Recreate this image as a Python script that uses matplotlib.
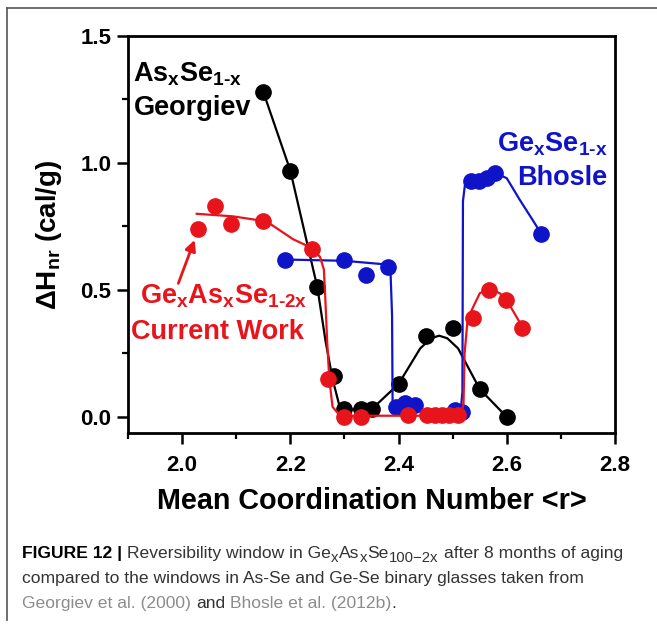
import matplotlib
matplotlib.use('Agg')
import matplotlib.pyplot as plt
from matplotlib.lines import Line2D
from matplotlib.ticker import FormatStrFormatter

plt.rcParams['font.family'] = ['Liberation Sans', 'DejaVu Sans']
plt.rcParams['mathtext.default'] = 'regular'

RED = '#e8141c'
BLUE = '#0f14c8'
BLACK = '#000000'

# As-Se glasses, Georgiev et al.
georgiev_r = [2.15, 2.20, 2.25, 2.28, 2.30, 2.33, 2.35, 2.40, 2.45, 2.50, 2.55, 2.60]
georgiev_h = [1.28, 0.97, 0.51, 0.16, 0.03, 0.03, 0.03, 0.13, 0.32, 0.35, 0.11, 0.00]
georgiev_fit_r = [2.15, 2.20, 2.25, 2.265, 2.278, 2.29, 2.30, 2.35, 2.40, 2.42, 2.44,
                  2.46, 2.475, 2.49, 2.51, 2.53, 2.55, 2.60]
georgiev_fit_h = [1.28, 0.97, 0.51, 0.30, 0.15, 0.05, 0.03, 0.03, 0.13, 0.20, 0.27,
                  0.31, 0.32, 0.31, 0.27, 0.19, 0.11, 0.00]

# Ge-Se glasses, Bhosle et al.
bhosle_r = [2.19, 2.30, 2.34, 2.38, 2.396, 2.411, 2.43, 2.504, 2.517,
            2.533, 2.548, 2.563, 2.578, 2.664]
bhosle_h = [0.62, 0.62, 0.56, 0.59, 0.04, 0.055, 0.047, 0.028, 0.02,
            0.93, 0.93, 0.94, 0.96, 0.72]
bhosle_fit_r = [2.19, 2.30, 2.38, 2.385, 2.388, 2.389, 2.395, 2.515, 2.518, 2.519,
                2.523, 2.535, 2.56, 2.58, 2.60, 2.624, 2.648, 2.664]
bhosle_fit_h = [0.62, 0.615, 0.60, 0.58, 0.40, 0.05, 0.025, 0.025, 0.10, 0.85,
                0.92, 0.93, 0.94, 0.96, 0.94, 0.855, 0.775, 0.72]

# GexAsxSe1-2x glasses, this work
current_r = [2.03, 2.06, 2.09, 2.15, 2.24, 2.27, 2.30, 2.33, 2.417, 2.452, 2.467,
             2.48, 2.494, 2.509, 2.537, 2.568, 2.599, 2.629]
current_h = [0.74, 0.83, 0.76, 0.77, 0.66, 0.15, 0.00, 0.00, 0.008, 0.008, 0.008,
             0.008, 0.008, 0.008, 0.39, 0.50, 0.46, 0.35]
current_fit_r = [2.027, 2.094, 2.156, 2.205, 2.24, 2.255, 2.262, 2.265, 2.268, 2.272,
                 2.278, 2.29, 2.30, 2.505, 2.515, 2.52, 2.522, 2.527, 2.535, 2.55,
                 2.568, 2.587, 2.60, 2.63]
current_fit_h = [0.80, 0.79, 0.77, 0.70, 0.665, 0.63, 0.58, 0.45, 0.30, 0.15,
                 0.04, 0.01, 0.005, 0.005, 0.01, 0.05, 0.25, 0.37, 0.42, 0.487,
                 0.507, 0.487, 0.46, 0.35]

x_major = [2.0, 2.2, 2.4, 2.6, 2.8]
x_minor = [1.9, 2.1, 2.3, 2.5, 2.7]
y_major = [0.0, 0.5, 1.0, 1.5]
y_minor = [0.25, 0.75, 1.25]

fig = plt.figure(figsize=(6.57, 6.25), dpi=100)
ax = fig.add_axes([0.1948, 0.3072, 0.7413, 0.6352])

ax.plot(georgiev_fit_r, georgiev_fit_h, color=BLACK, lw=1.6, zorder=2)
ax.plot(georgiev_r, georgiev_h, 'o', color=BLACK, ms=11, zorder=3)
ax.plot(bhosle_fit_r, bhosle_fit_h, color=BLUE, lw=1.6, zorder=4)
ax.plot(bhosle_r, bhosle_h, 'o', color=BLUE, ms=11, zorder=5)
ax.plot(current_fit_r, current_fit_h, color=RED, lw=1.6, zorder=6)
ax.plot(current_r, current_h, 'o', color=RED, ms=11, zorder=7)

ax.set_xlim(1.9, 2.8)
ax.set_ylim(-0.063, 1.5)
ax.set_xticks(x_major)
ax.set_xticks(x_minor, minor=True)
ax.set_yticks(y_major)
ax.set_yticks(y_minor, minor=True)
ax.xaxis.set_major_formatter(FormatStrFormatter('%.1f'))
ax.yaxis.set_major_formatter(FormatStrFormatter('%.1f'))
ax.tick_params(which='major', direction='out', length=8, width=1.8,
               labelsize=16, pad=4)
ax.tick_params(which='minor', direction='out', length=4.5, width=1.6)
ax.tick_params(axis='x', which='major', pad=8)
for lab in ax.get_xticklabels() + ax.get_yticklabels():
    lab.set_fontweight('bold')
for sp in ax.spines.values():
    sp.set_linewidth(2.0)

ax.set_xlabel('Mean Coordination Number <r>', fontsize=20.7, fontweight='bold',
              labelpad=8)
ax.set_ylabel('$\\Delta H_{nr}$ (cal/g)', fontsize=20, fontweight='bold',
              labelpad=12)

# series labels
ax.text(1.91, 1.319, '$As_xSe_{1\u2010x}$', fontsize=19.5, fontweight='bold',
        color=BLACK, va='baseline')
ax.text(1.91, 1.189, 'Georgiev', fontsize=19.5, fontweight='bold',
        color=BLACK, va='baseline')
ax.text(2.786, 1.045, '$Ge_xSe_{1\u2010x}$', fontsize=19.5, fontweight='bold',
        color=BLUE, va='baseline', ha='right')
ax.text(2.786, 0.913, 'Bhosle', fontsize=19.5, fontweight='bold',
        color=BLUE, va='baseline', ha='right')
ax.text(1.922, 0.445, '$Ge_xAs_xSe_{1\u20102x}$', fontsize=19.5, fontweight='bold',
        color=RED, va='baseline')
ax.text(1.906, 0.306, 'Current Work', fontsize=19.5, fontweight='bold',
        color=RED, va='baseline')
ax.annotate('', xy=(2.023, 0.697), xytext=(1.993, 0.526),
            arrowprops=dict(arrowstyle='-|>', color=RED, lw=2,
                            mutation_scale=16, shrinkA=0, shrinkB=0))

# page frame
fig.add_artist(Line2D([7 / 657, 1], [1 - 8 / 625] * 2, color='#555555', lw=1.2))
fig.add_artist(Line2D([7 / 657] * 2, [1 - 620 / 625, 1 - 8 / 625],
                      color='#555555', lw=1.2))

# caption, drawn run by run; sub=True runs are lowered and smaller
DARK = '#333333'
GREY = '#8c8c8c'
cap_size = 12.6
renderer = fig.canvas.get_renderer()
space = 0.278 * cap_size * fig.dpi / 72 / fig.bbox.width


def caption_line(runs, y):
    x = 22 / 657
    for run in runs:
        if run == ' ':
            x += space
            continue
        text, color, weight, sub = (run + (False,))[:4]
        size = cap_size * 0.85 if sub else cap_size
        yy = y - 3.5 / fig.bbox.height if sub else y
        t = fig.text(x, yy, text, color=color, fontsize=size,
                     fontweight=weight, va='baseline', ha='left')
        x += t.get_window_extent(renderer).width / fig.bbox.width
        if sub:
            x += 0.6 / fig.bbox.width


caption_line([('FIGURE 12 |', BLACK, 'bold'), ' ',
              ('Reversibility window in Ge', DARK, 'normal'),
              ('x', DARK, 'normal', True), ('As', DARK, 'normal'),
              ('x', DARK, 'normal', True), ('Se', DARK, 'normal'),
              ('100\u22122x', DARK, 'normal', True), ' ',
              ('after 8 months of aging', DARK, 'normal')], 1 - 558 / 625)
caption_line([('compared to the windows in As-Se and Ge-Se binary glasses taken from',
               DARK, 'normal')], 1 - 583 / 625)
caption_line([('Georgiev et al. (2000)', GREY, 'normal'), ' ',
              ('and', DARK, 'normal'), ' ',
              ('Bhosle et al. (2012b)', GREY, 'normal'), ('.', DARK, 'normal')],
             1 - 608 / 625)

fig.savefig('out.png', dpi=100)
